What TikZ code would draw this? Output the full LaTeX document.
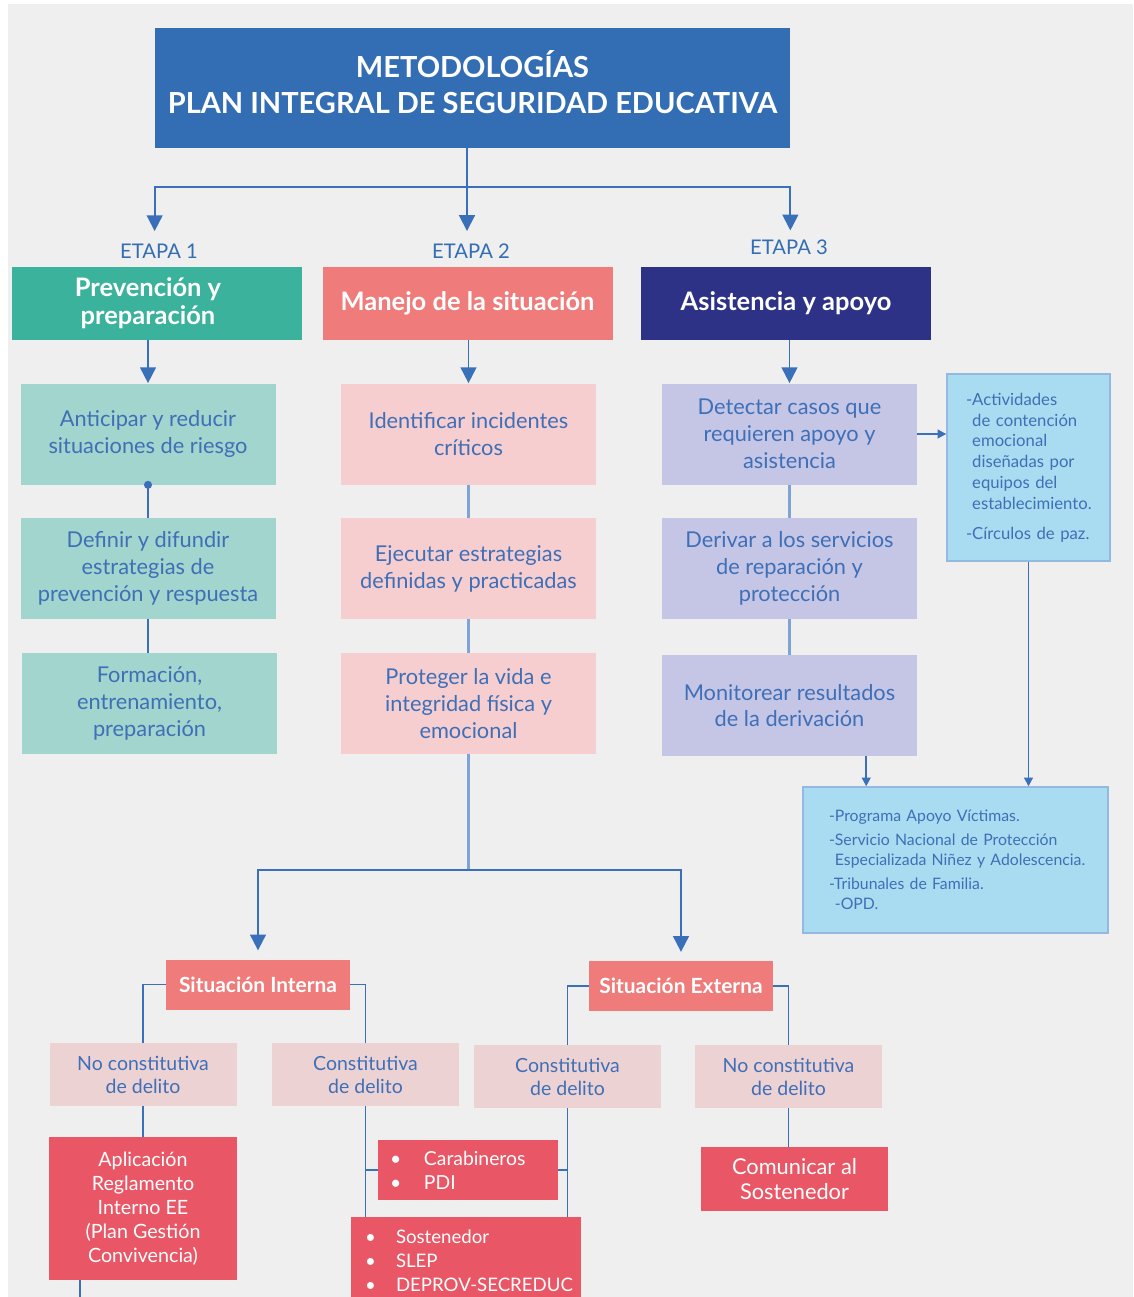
\documentclass[tikz,border=0pt]{standalone}
\usepackage{fontspec}
\setmainfont{Lato}
\usetikzlibrary{arrows.meta,calc,positioning}

\definecolor{titleblue}{HTML}{336DB4}
\definecolor{lineblue}{HTML}{3A70BA}
\definecolor{lightline}{HTML}{7FA3D5}
\definecolor{textblue}{HTML}{3E6FB7}
\definecolor{bggray}{HTML}{EFEFEF}
\definecolor{tealhead}{HTML}{3BB39C}
\definecolor{salmon}{HTML}{EF7C7B}
\definecolor{navy}{HTML}{2E3287}
\definecolor{tealpale}{HTML}{A1D5CD}
\definecolor{pinkpale}{HTML}{F6CED0}
\definecolor{lavender}{HTML}{C5C6E6}
\definecolor{skyfill}{HTML}{A9DCF0}
\definecolor{skyline}{HTML}{93B9E0}
\definecolor{palepink}{HTML}{EDD2D4}
\definecolor{redbox}{HTML}{E95766}

\begin{document}
\begin{tikzpicture}
[x=0.02cm,y=-0.02cm,%
  every node/.style={inner sep=0pt,align=center},%
  sz/.style 2 args={minimum width=#1*0.02cm,minimum height=#2*0.02cm},%
  conn/.style={draw=lineblue,line width=1.1pt},%
  soft/.style={draw=lightline,line width=1.3pt},%
  arr/.style={conn,-{Triangle[width=9pt,length=9pt]}},%
  sarr/.style={conn,-{Triangle[width=5pt,length=5pt]}},%
  etapa/.style={text=titleblue,font=\fontsize{11.5}{14}\selectfont},%
  head/.style={text=white,font=\bfseries\fontsize{14.5}{16}\selectfont,sz={290}{73}},%
  paso/.style={text=textblue,font=\fontsize{12.4}{15.3}\selectfont,sz={255}{101}},%
  nota/.style={fill=skyfill,draw=skyline,line width=0.8pt,text=textblue,align=left,font=\fontsize{9.5}{11.9}\selectfont},%
  sit/.style={fill=salmon,text=white,font=\bfseries\fontsize{11.9}{13}\selectfont,sz={184}{50}},%
  caso/.style={fill=palepink,text=textblue,font=\fontsize{11.1}{13}\selectfont,sz={187}{63}},%
  accion/.style={fill=redbox,text=white,font=\fontsize{11.2}{13.6}\selectfont}]
\fill[bggray] (8,4) rectangle (1133,1297);
\useasboundingbox (0,0) rectangle (1133,1297);

\node[fill=titleblue,text=white,font=\bfseries\fontsize{16.5}{20.4}\selectfont,sz={635}{120},text depth=7pt] (title) at (472.5,88)
  {METODOLOGÍAS\\PLAN INTEGRAL DE SEGURIDAD EDUCATIVA};
\coordinate (fork) at (467,187);

\node[etapa] (lab1) at (159,251) {ETAPA 1};
\node[etapa] (lab2) at (471,251) {ETAPA 2};
\node[etapa] (lab3) at (789,247) {ETAPA 3};

\node[head,fill=tealhead] (e1) at (157,303.5) {Prevención y\hspace*{0.36cm}\\preparación\hspace*{0.36cm}};
\node[head,fill=salmon] (e2) at (467.5,303.5) {Manejo de la situación};
\node[head,fill=navy] (e3) at (786,303.5) {Asistencia y apoyo};

\node[paso,fill=tealpale] (b11) at (148,434) {Anticipar y reducir\\situaciones de riesgo};
\node[paso,fill=tealpale] (b12) at (148,568.5) {Definir y difundir\\estrategias de\\prevención y respuesta};
\node[paso,fill=tealpale] (b13) at (149.5,703.5) {Formación,\\entrenamiento,\\preparación};

\node[paso,fill=pinkpale] (b21) at (468.5,434) {Identificar incidentes\\críticos};
\node[paso,fill=pinkpale] (b22) at (468.5,568.5) {Ejecutar estrategias\\definidas y practicadas};
\node[paso,fill=pinkpale] (b23) at (468.5,703.5) {Proteger la vida e\\integridad física y\\emocional};

\node[paso,fill=lavender] (b31) at (789.5,434) {Detectar casos que\\requieren apoyo y\\asistencia};
\node[paso,fill=lavender] (b32) at (789.5,568.5) {Derivar a los servicios\\de reparación y\\protección};
\node[paso,fill=lavender] (b33) at (789.5,705.5) {Monitorear resultados\\de la derivación};

\node[nota,sz={163}{187},inner xsep=0.38cm,text width=2.5cm] (r1) at (1028.5,467.5)
  {-Actividades\\\phantom{-}de contención\\\phantom{-}emocional\\\phantom{-}diseñadas por\\\phantom{-}equipos del\\\phantom{-}establecimiento.\\[5pt]-Círculos de paz.};
\node[nota,sz={305}{146},inner xsep=0.52cm,text width=5.06cm,font=\fontsize{9}{11.3}\selectfont] (r2) at (955.5,860)
  {-Programa Apoyo Víctimas.\\[2.5pt]-Servicio Nacional de Protección\\\mbox{\phantom{-}Especializada Niñez y Adolescencia.}\\[2.5pt]-Tribunales de Familia.\\\phantom{-}-OPD.};

\node[sit] (si) at (258,984.5) {Situación Interna};
\node[sit] (se) at (681,986) {Situación Externa};

\node[caso] (nc1) at (143,1074.5) {No constitutiva\\de delito};
\node[caso] (c1) at (365.5,1074.5) {Constitutiva\\de delito};
\node[caso] (c2) at (567.5,1076.5) {Constitutiva\\de delito};
\node[caso] (nc2) at (788.5,1076.5) {No constitutiva\\de delito};

\node[accion,sz={188}{143}] (a1) at (143,1208.5) {Aplicación\\Reglamento\\Interno EE\\(Plan Gestión\\Convivencia)};
\node[accion,sz={180}{60},align=left,inner xsep=0.24cm,text width=3.12cm,font=\fontsize{11}{13.6}\selectfont] (carab) at (468,1170)
  {\makebox[0.68cm][l]{\textbullet}Carabineros\\\makebox[0.68cm][l]{\textbullet}PDI};
\node[accion,sz={230}{88},align=left,inner xsep=0.28cm,text width=4.04cm,font=\fontsize{10.6}{13.6}\selectfont] (sost) at (466,1261)
  {\makebox[0.62cm][l]{\textbullet}Sostenedor\\\makebox[0.62cm][l]{\textbullet}SLEP\\\mbox{\makebox[0.62cm][l]{\textbullet}DEPROV-SECREDUC}};
\node[accion,sz={187}{64},font=\fontsize{12.4}{14.7}\selectfont] (com) at (794.5,1179) {Comunicar al\\Sostenedor};
\coordinate (bottom) at (0,1297);

\draw[conn] (fork |- title.south) -- (fork);
\draw[arr,shorten >=7pt] (fork) -| (title.south west |- lab1.north);
\draw[arr,shorten >=7pt] (fork) -- (fork |- lab2.north);
\draw[arr,shorten >=5pt] (fork) -| (title.south east |- lab3.north);

\draw[arr] (b11.north |- e1.south) -- (b11.north);
\draw[arr] (b21.north |- e2.south) -- (b21.north);
\draw[arr] (b31.north |- e3.south) -- (b31.north);

\draw[conn] (b11.south) -- (b12.north);
\fill[lineblue] (b11.south) circle (2.3pt);
\draw[conn] (b12.south) -- (b12.south |- b13.north);
\draw[soft] (b21.south) -- (b22.north);
\draw[soft] (b22.south) -- (b23.north);
\draw[soft] (b31.south) -- (b32.north);
\draw[soft] (b32.south) -- (b33.north);

\draw[sarr] (b31.east) -- (b31.east -| r1.west);
\draw[sarr] ($(b33.south west)!.8!(b33.south east)$) coordinate (d1) -- (d1 |- r2.north);
\draw[sarr] (r1.south) -- (r1.south |- r2.north);

\coordinate (fork2) at (470,870);
\draw[soft] (b23.south) -- (b23.south |- fork2);
\draw[arr,shorten >=5pt] (b23.south |- fork2) -| (si.north);
\draw[arr,shorten >=5pt] (b23.south |- fork2) -| (se.north);

\draw[conn] (si.west) -| (nc1.north);
\draw[conn] (si.east) -| (c1.north);
\draw[conn] (se.west) -| (c2.north);
\draw[conn] (se.east) -| (nc2.north);

\draw[conn] (nc1.south) -- (a1.north);
\draw[conn] ($(a1.south west)!.165!(a1.south east)$) coordinate (a1o) -- (a1o |- bottom);
\draw[conn] (c1.south) -- (c1.south |- sost.north);
\draw[conn] (c2.south) -- (c2.south |- sost.north);
\draw[conn] (carab.west) -- (carab.west -| c1.south);
\draw[conn] (carab.east) -- (carab.east -| c2.south);
\draw[conn] (nc2.south) -- (nc2.south |- com.north);
\end{tikzpicture}
\end{document}
